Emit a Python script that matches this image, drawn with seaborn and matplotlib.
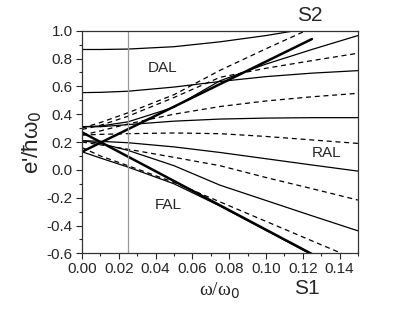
import numpy as np
import pandas as pd
import matplotlib
matplotlib.use("Agg")
import matplotlib.pyplot as plt
import seaborn as sns
from matplotlib.ticker import MultipleLocator

sns.set_style("ticks")
plt.rcParams['font.family'] = ['Liberation Sans', 'DejaVu Sans']

# omega/omega_0 sample points
w = [0, 0.01, 0.025, 0.05, 0.075, 0.1, 0.125, 0.15]

# thin solid levels
sol_A = [0.865, 0.865, 0.868, 0.885, 0.92, 0.965, 1.02, 1.075]
sol_B = [0.555, 0.557, 0.565, 0.595, 0.635, 0.67, 0.695, 0.713]
sol_C = [0.31, 0.315, 0.345, 0.45, 0.64, 0.76, 0.865, 0.965]
sol_E = [0.31, 0.31, 0.325, 0.35, 0.365, 0.372, 0.375, 0.375]
sol_F = [0.21, 0.205, 0.195, 0.165, 0.125, 0.08, 0.035, -0.009]
sol_J = [0.21, 0.19, 0.14, 0.03, -0.11, -0.22, -0.33, -0.438]
sol_L = [0.13, 0.085, 0.02, -0.1, -0.26, -0.435, -0.61, -0.785]

# dashed levels
dash_D1 = [0.30, 0.34, 0.41, 0.54, 0.715, 0.87, 1.02, 1.17]
dash_D2 = [0.29, 0.32, 0.385, 0.52, 0.665, 0.73, 0.785, 0.838]
dash_H = [0.25, 0.28, 0.33, 0.40, 0.455, 0.495, 0.525, 0.55]
dash_G = [0.25, 0.255, 0.26, 0.265, 0.26, 0.24, 0.215, 0.19]
dash_I = [0.20, 0.18, 0.148, 0.09, 0.03, -0.055, -0.135, -0.217]
dash_K = [0.16, 0.10, 0.03, -0.09, -0.23, -0.37, -0.51, -0.65]

# bold straight lines S1, S2
s_w = [0, 0.125]
s1 = [0.27, -0.605]
s2 = [0.13, 0.94]

solids = [sol_A, sol_B, sol_C, sol_E, sol_F, sol_J, sol_L]
dashes = [dash_D1, dash_D2, dash_H, dash_G, dash_I, dash_K]

fig = plt.figure(figsize=(3.99, 3.12), dpi=100)
ax = fig.add_axes([0.2055, 0.188, 0.6915, 0.7136])

for y in solids:
    sns.lineplot(x=w, y=y, ax=ax, color="black", lw=0.9)
for y in dashes:
    sns.lineplot(x=w, y=y, ax=ax, color="black", lw=0.9)
    ax.lines[-1].set_linestyle((0, (4, 3)))
sns.lineplot(x=s_w, y=s1, ax=ax, color="black", lw=1.8)
sns.lineplot(x=s_w, y=s2, ax=ax, color="black", lw=1.8)

ax.axvline(0.025, color="#999999", lw=0.9)

ax.set_xlim(0, 0.15)
ax.set_ylim(-0.6, 1.0)
ax.xaxis.set_major_locator(MultipleLocator(0.02))
ax.xaxis.set_minor_locator(MultipleLocator(0.01))
ax.yaxis.set_major_locator(MultipleLocator(0.2))
ax.yaxis.set_minor_locator(MultipleLocator(0.1))
ax.xaxis.set_major_formatter(matplotlib.ticker.FormatStrFormatter("%.2f"))
ax.yaxis.set_major_formatter(matplotlib.ticker.FormatStrFormatter("%.1f"))
ax.tick_params(axis="both", which="major", labelsize=11, length=4, width=0.8,
               direction="out", pad=2.5)
ax.tick_params(axis="both", which="minor", length=2.5, width=0.8, direction="out")
for s in ax.spines.values():
    s.set_linewidth(0.9)
    s.set_color("#333333")

ax.set_xlabel("ω/ω$_0$", fontsize=14, family="Liberation Serif", labelpad=3)
ax.set_ylabel("e'/ħω$_0$", fontsize=16, labelpad=2)

ax.text(0.044, 0.73, "DAL", fontsize=11, ha="center", va="center")
ax.text(0.133, 0.12, "RAL", fontsize=11, ha="center", va="center")
ax.text(0.047, -0.253, "FAL", fontsize=11, ha="center", va="center")
ax.text(0.124, 1.11, "S2", fontsize=15, ha="center", va="center", clip_on=False)
ax.text(0.122, -0.85, "S1", fontsize=15, ha="center", va="center", clip_on=False)

fig.savefig("out.png", dpi=100)
